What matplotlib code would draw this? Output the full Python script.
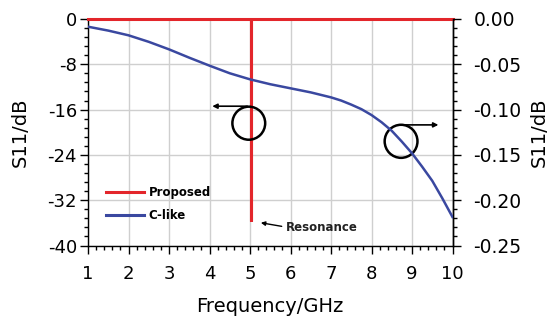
import matplotlib
matplotlib.use("Agg")
import matplotlib.pyplot as plt
from matplotlib.patches import Ellipse
from matplotlib.ticker import AutoMinorLocator

# Data
freq_proposed = [1.0, 5.02, 5.02, 5.02, 10.0]
s11_proposed = [0.0, 0.0, -35.7, 0.0, 0.0]

freq_clike = [1.0, 1.5, 2.0, 2.5, 3.0, 3.5, 4.0, 4.5, 5.0, 5.5, 6.0, 6.5, 7.0, 7.25, 7.5, 7.75, 8.0,
              8.25, 8.5, 8.75, 9.0, 9.25, 9.5, 9.75, 10.0]
s11_clike = [-0.0085, -0.0128, -0.0180, -0.0252, -0.0335, -0.0427, -0.0515, -0.0599, -0.0666,
             -0.0720, -0.0765, -0.0810, -0.0865, -0.0900, -0.0945, -0.0995, -0.1060, -0.1140,
             -0.1234, -0.1354, -0.1482, -0.1630, -0.1786, -0.1980, -0.2186]

xticks = list(range(1, 11))
left_ticks = [0, -8, -16, -24, -32, -40]
right_ticks = [0.0, -0.05, -0.10, -0.15, -0.20, -0.25]

fig = plt.figure(figsize=(5.5, 3.22), dpi=100)
ax = fig.add_axes([88/550, 1-245.5/322, (452.5-88)/550, (245.5-19)/322])
ax2 = ax.twinx()

red = '#e3262b'
blue = '#3a48a0'

lp, = ax.plot(freq_proposed, s11_proposed, color=red, lw=2.2, zorder=3, label='Proposed',
              clip_on=False, solid_joinstyle='bevel')
lc, = ax2.plot(freq_clike, s11_clike, color=blue, lw=1.8, zorder=3, label='C-like')

ax.set_xlim(1, 10)
ax.set_ylim(-40, 0)
ax2.set_ylim(-0.25, 0)
ax.set_xticks(xticks)
ax.set_yticks(left_ticks)
ax.set_yticklabels([str(t) for t in left_ticks])
ax2.set_yticks(right_ticks)
ax2.set_yticklabels(['%.2f' % t for t in right_ticks])
ax.xaxis.set_minor_locator(AutoMinorLocator(5))
ax.yaxis.set_minor_locator(AutoMinorLocator(5))
ax2.yaxis.set_minor_locator(AutoMinorLocator(5))

ax.grid(True, which='major', color='#cfcfcf', lw=1.0)
ax.set_axisbelow(True)

fs = 13
ax.tick_params(axis='y', which='major', labelsize=fs, length=6, width=1, direction='out', pad=2)
ax.tick_params(axis='x', which='major', labelsize=fs, length=6, width=1, direction='out', pad=8)
ax.tick_params(axis='both', which='minor', length=3, width=1, direction='out')
ax2.tick_params(axis='y', which='major', labelsize=13.5, length=6, width=1, direction='out', pad=9)
ax2.tick_params(axis='y', which='minor', length=3, width=1, direction='out')
for s in ax.spines.values():
    s.set_color('black')
    s.set_linewidth(1.0)
for name, s in ax2.spines.items():
    if name == 'right':
        s.set_color('black')
        s.set_linewidth(1.0)
    else:
        s.set_visible(False)

ax.set_xlabel('Frequency/GHz', fontsize=14, labelpad=10)
ax.set_ylabel('S11/dB', fontsize=14, labelpad=13)
ax2.set_ylabel('S11/dB', fontsize=14, labelpad=6)

# circles and arrows
ax.add_patch(Ellipse((4.97, -18.4), 0.81, 5.84, fill=False, ec='black', lw=1.8, zorder=4))
ax.annotate('', xy=(4.0, -15.4), xytext=(5.0, -15.4),
            arrowprops=dict(arrowstyle='-|>', color='black', lw=1.2, mutation_scale=7), zorder=4)
ax.add_patch(Ellipse((8.73, -21.6), 0.81, 5.84, fill=False, ec='black', lw=1.8, zorder=4))
ax.annotate('', xy=(9.72, -18.7), xytext=(8.72, -18.7),
            arrowprops=dict(arrowstyle='-|>', color='black', lw=1.2, mutation_scale=7), zorder=4)

# resonance annotation
ax.annotate('', xy=(5.2, -35.9), xytext=(5.85, -36.7),
            arrowprops=dict(arrowstyle='-|>', color='black', lw=1.0, mutation_scale=6))
ax.text(5.88, -36.8, 'Resonance', fontsize=8.5, fontweight='bold', va='center', ha='left', color='#222222')

leg = ax.legend([lp, lc], ['Proposed', 'C-like'], loc='upper left', bbox_to_anchor=(0.02, 0.31),
                frameon=False, handlelength=3.2, handletextpad=0.4, labelspacing=0.85,
                prop={'weight': 'bold', 'size': 8.5})
for h in leg.legend_handles:
    h.set_linewidth(2.2)

fig.savefig('out.png', dpi=100)
